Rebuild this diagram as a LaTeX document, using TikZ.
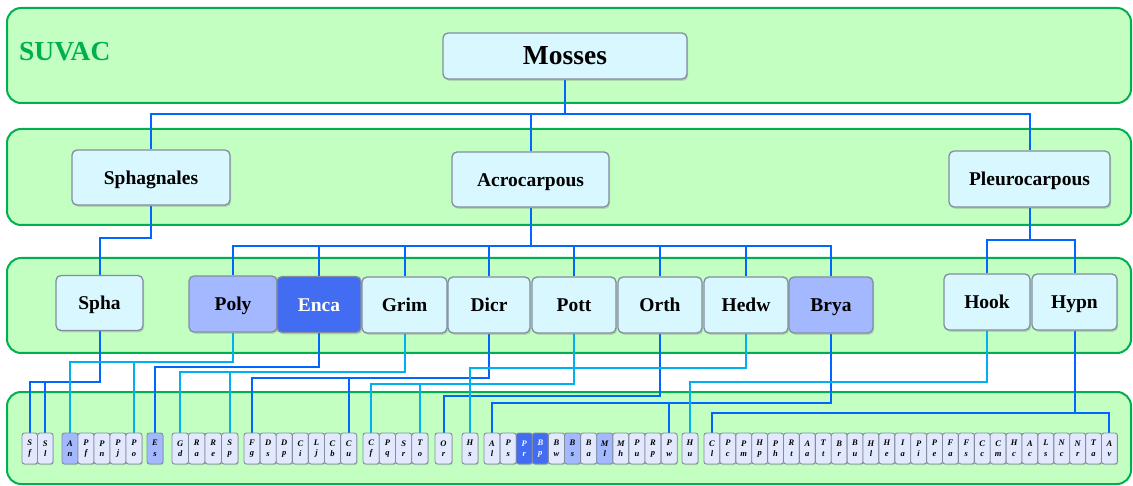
\documentclass[tikz,border=0pt]{standalone}
\usepackage{fontspec}
\setmainfont{Liberation Serif}
\usetikzlibrary{shadows}
\definecolor{bandfill}{RGB}{194,255,192}
\definecolor{bandline}{RGB}{0,176,80}
\definecolor{cdark}{RGB}{0,102,255}
\definecolor{clight}{RGB}{0,176,240}
\definecolor{nodefill}{RGB}{216,247,255}
\definecolor{nodeline}{RGB}{130,142,160}
\definecolor{midblue}{RGB}{164,184,255}
\definecolor{deepblue}{RGB}{66,108,242}
\definecolor{leaflf}{RGB}{226,233,255}
\pgfdeclarelayer{back}
\pgfdeclarelayer{wires}
\pgfsetlayers{back,wires,main}
\tikzset{
  band/.style={fill=bandfill, draw=bandline, line width=2pt, rounded corners=14pt},
  box/.style={draw=nodeline, line width=1.3pt, rounded corners=5pt, fill=#1, inner sep=0pt,
    font=\fontsize{19.5}{22}\selectfont\bfseries, text height=14pt, text depth=0pt,
    drop shadow={opacity=0.3, shadow xshift=1.2pt, shadow yshift=-1.8pt}},
  box/.default=nodefill,
  dk/.style={draw=cdark, line width=2pt},
  lt/.style={draw=clight, line width=2pt},
  leaf/.style={draw=nodeline, line width=0.9pt, rounded corners=2.5pt, minimum height=31pt,
    inner sep=0pt, align=center, font=\fontsize{8.5}{10.5}\selectfont\bfseries\itshape,
    drop shadow={opacity=0.3, shadow xshift=0.8pt, shadow yshift=-1pt}},
}
\newcommand\leafgroup[3]{%
  \foreach \la/\lb/\lc/\ld [count=\li from 0] in {#3} {
    \node[leaf, fill=\lc, text=\ld, minimum width=#2pt] (\la\lb) at ({#1+#2/2+#2*\li},448.5) {\la\\\lb};
  }}
\begin{document}
\begin{tikzpicture}[x=1pt,y=-1pt]
\useasboundingbox (0,0) rectangle (1133,486);
\begin{pgfonlayer}{back}
  \draw[band] (7,8) rectangle (1131,103);
  \draw[band] (7,129) rectangle (1131,225);
  \draw[band] (7,258) rectangle (1131,353);
  \draw[band] (7,392) rectangle (1131,484);
\end{pgfonlayer}
\node[anchor=west, text=bandline, font=\fontsize{27.5}{30}\selectfont\bfseries, inner sep=0pt] (suvac) at (19,52) {SUVAC};
% level 1
\node[box, minimum width=244pt, minimum height=46pt, font=\fontsize{27.5}{30}\selectfont\bfseries, text height=18pt] (Mosses) at (565,56) {Mosses};
% level 2
\node[box, minimum width=158pt, minimum height=55pt] (Sphagnales) at (151,177.5) {Sphagnales};
\node[box, minimum width=157pt, minimum height=55pt] (Acrocarpous) at (530.5,179.5) {Acrocarpous};
\node[box, minimum width=161pt, minimum height=56pt] (Pleurocarpous) at (1029.5,179) {Pleurocarpous};
% level 3
\node[box, minimum width=87pt, minimum height=55pt] (Spha) at (99.5,303) {Spha};
\node[box=midblue, minimum width=88pt, minimum height=56pt] (Poly) at (233,304) {Poly};
\node[box=deepblue, text=white, minimum width=84pt, minimum height=56pt] (Enca) at (319,304.5) {Enca};
\node[box, minimum width=85pt, minimum height=56pt] (Grim) at (404.5,305) {Grim};
\node[box, minimum width=82pt, minimum height=56pt] (Dicr) at (489,305) {Dicr};
\node[box, minimum width=84pt, minimum height=56pt] (Pott) at (574,305) {Pott};
\node[box, minimum width=84pt, minimum height=56pt] (Orth) at (660,305) {Orth};
\node[box, minimum width=84pt, minimum height=56pt] (Hedw) at (746,305) {Hedw};
\node[box=midblue, minimum width=84pt, minimum height=56pt] (Brya) at (831,305) {Brya};
\node[box, minimum width=86pt, minimum height=56pt] (Hook) at (987,302) {Hook};
\node[box, minimum width=85pt, minimum height=56pt] (Hypn) at (1074.5,302) {Hypn};
% level 4
\leafgroup{22}{15.5}{S/f/leaflf/black, S/l/leaflf/black}
\leafgroup{62}{16}{A/n/midblue/black, P/f/leaflf/black, P/n/leaflf/black, P/j/leaflf/black, P/o/leaflf/black}
\leafgroup{147}{16}{E/s/midblue/black}
\leafgroup{172}{16.5}{G/d/leaflf/black, R/a/leaflf/black, R/e/leaflf/black, S/p/leaflf/black}
\leafgroup{244}{16.1}{F/g/leaflf/black, D/s/leaflf/black, D/p/leaflf/black, C/i/leaflf/black, L/j/leaflf/black, C/b/leaflf/black, C/u/leaflf/black}
\leafgroup{363}{16.25}{C/f/leaflf/black, P/q/leaflf/black, S/r/leaflf/black, T/o/leaflf/black}
\leafgroup{435}{17}{O/r/leaflf/black}
\leafgroup{462}{16}{H/s/leaflf/black}
\leafgroup{484}{16.1}{A/l/leaflf/black, P/s/leaflf/black, P/r/deepblue/white, B/p/deepblue/white, B/w/leaflf/black, B/s/midblue/black, B/a/leaflf/black, M/l/midblue/black, M/h/leaflf/black, P/u/leaflf/black, R/p/leaflf/black, P/w/leaflf/black}
\leafgroup{682}{16}{H/u/leaflf/black}
\leafgroup{704}{15.9}{C/l/leaflf/black, P/c/leaflf/black, P/m/leaflf/black, H/p/leaflf/black, P/h/leaflf/black, R/t/leaflf/black, A/a/leaflf/black, T/t/leaflf/black, B/r/leaflf/black, B/u/leaflf/black, H/l/leaflf/black, H/e/leaflf/black, I/a/leaflf/black, P/i/leaflf/black, P/e/leaflf/black, F/a/leaflf/black, F/s/leaflf/black, C/c/leaflf/black, C/m/leaflf/black, H/c/leaflf/black, A/c/leaflf/black, L/s/leaflf/black, N/c/leaflf/black, N/r/leaflf/black, T/a/leaflf/black, A/v/leaflf/black}
% connectors
\begin{pgfonlayer}{wires}
  \draw[dk] (Mosses.south) -- (Mosses.south |- 0,114) -| (Sphagnales.north);
  \draw[dk] (Mosses.south |- 0,114) -| (Acrocarpous.north);
  \draw[dk] (Mosses.south |- 0,114) -| (Pleurocarpous.north);
  \draw[dk] (Sphagnales.south) -- (Sphagnales.south |- 0,238) -| (Spha.north);
  \draw[dk] (Acrocarpous.south) -- (Acrocarpous.south |- 0,246) -| (Poly.north);
  \foreach \n in {Enca,Grim,Dicr,Pott,Orth,Hedw,Brya}
    \draw[dk] (Acrocarpous.south |- 0,246) -| (\n.north);
  \draw[dk] (Pleurocarpous.south) -- (Pleurocarpous.south |- 0,240) -| (Hook.north);
  \draw[dk] (Pleurocarpous.south |- 0,240) -| (Hypn.north);
  % leaves
  \draw[dk] (Spha.south) -- (Spha.south |- 0,382) -| (Sf.north);
  \draw[dk] (Spha.south |- 0,382) -| (Sl.north);
  \draw[lt] (Poly.south) -- (Poly.south |- 0,362) -| (An.north);
  \draw[lt] (Poly.south |- 0,362) -| (Po.north);
  \draw[dk] (Enca.south) -- (Enca.south |- 0,367) -| (Es.north);
  \draw[lt] (Grim.south) -- (Grim.south |- 0,372) -| (Gd.north);
  \draw[lt] (Grim.south |- 0,372) -| (Sp.north);
  \draw[dk] (Dicr.south) -- (Dicr.south |- 0,378) -| (Fg.north);
  \draw[dk] (Dicr.south |- 0,378) -| (Cu.north);
  \draw[lt] (Pott.south) -- (Pott.south |- 0,384) -| (Cf.north);
  \draw[lt] (Pott.south |- 0,384) -| (To.north);
  \draw[dk] (Orth.south) -- (Orth.south |- 0,396) -| (Or.north);
  \draw[lt] (Hedw.south) -- (Hedw.south |- 0,368) -| (Hs.north);
  \draw[dk] (Brya.south) -- (Brya.south |- 0,403) -| (Al.north);
  \draw[dk] (Brya.south |- 0,403) -| (Pw.north);
  \draw[lt] (Hook.south) -- (Hook.south |- 0,382) -| (Hu.north);
  \draw[dk] (Hypn.south) -- (Hypn.south |- 0,413) -| (Cl.north);
  \draw[dk] (Hypn.south |- 0,413) -| (Av.north);
\end{pgfonlayer}
\end{tikzpicture}
\end{document}
